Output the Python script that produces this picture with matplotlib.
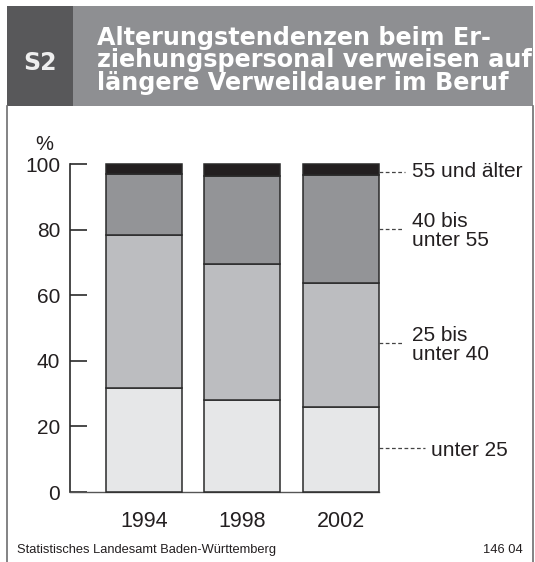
import matplotlib
matplotlib.use("Agg")
import matplotlib.pyplot as plt
from matplotlib.patches import Rectangle
from matplotlib.lines import Line2D

plt.rcParams['font.family'] = ['Liberation Sans', 'DejaVu Sans']

# ---- data ----
years = ["1994", "1998", "2002"]
unter_25 = [31.6, 28.1, 25.9]
von_25_bis_40 = [46.8, 41.3, 37.9]
von_40_bis_55 = [18.6, 27.0, 32.8]
ab_55 = [3.0, 3.6, 3.4]
series_labels = ["unter 25", "25 bis\nunter 40", "40 bis\nunter 55", "55 und älter"]
yticks = [0, 20, 40, 60, 80, 100]

colors = ["#e6e7e8", "#bcbdc0", "#939497", "#231f20"]

W, H = 535, 562
fig = plt.figure(figsize=(W / 100, H / 100), dpi=100)
fig.patch.set_facecolor("white")

def fx(px):
    return px / W

def fy(py):
    return 1 - py / H

# ---- frame & header ----
fig.patches.append(Rectangle((fx(7), fy(106)), fx(533) - fx(7), fy(6) - fy(106),
                             transform=fig.transFigure, facecolor="#8e8f92", edgecolor="none", zorder=0))
fig.patches.append(Rectangle((fx(7), fy(106)), fx(73) - fx(7), fy(6) - fy(106),
                             transform=fig.transFigure, facecolor="#58585a", edgecolor="none", zorder=1))
for xx in (7, 533):
    fig.lines.append(Line2D([fx(xx), fx(xx)], [fy(106), 0], transform=fig.transFigure,
                            color="#6e6e70", lw=1.2))

fig.text(fx(40), fy(63), "S2", color="#eeeeee", fontsize=17, fontweight="bold",
         family="DejaVu Sans", ha="center", va="center")
title_lines = ["Alterungstendenzen beim Er-",
               "ziehungspersonal verweisen auf",
               "längere Verweildauer im Beruf"]
for i, line in enumerate(title_lines):
    fig.text(fx(97), fy(45 + i * 22.5), line, color="white", fontsize=17.2,
             fontweight="bold", family="DejaVu Sans", ha="left", va="baseline")

# ---- chart axes ----
ppu = 98.3  # pixels per category unit
c0 = 144
x_left_px, x_right_px = 70, 400
ax = fig.add_axes([fx(x_left_px), fy(492), fx(x_right_px) - fx(x_left_px), fy(164) - fy(492)])
ax.set_xlim(-(c0 - x_left_px) / ppu, (x_right_px - c0) / ppu)
ax.set_ylim(0, 100)
ax.patch.set_alpha(0)

xpos = list(range(len(years)))
bw = 76 / ppu
bottom = [0, 0, 0]
for vals, col in zip([unter_25, von_25_bis_40, von_40_bis_55, ab_55], colors):
    ax.bar(xpos, vals, width=bw, bottom=bottom, color=col, edgecolor="#2a2a2a",
           linewidth=1.1, clip_on=False, zorder=3)
    bottom = [b + v for b, v in zip(bottom, vals)]

for s in ["top", "right"]:
    ax.spines[s].set_visible(False)
ax.spines["left"].set_color("#2a2a2a")
ax.spines["left"].set_linewidth(1.2)
ax.spines["bottom"].set_color("#555555")
ax.spines["bottom"].set_linewidth(1.0)
ax.spines["bottom"].set_bounds(ax.get_xlim()[0], 2 + bw / 2)

ax.set_yticks(yticks)
ax.set_yticklabels([str(t) for t in yticks])
ax.tick_params(axis="y", direction="in", length=12, width=1.2, color="#2a2a2a",
               labelsize=15, pad=7, labelcolor="#231f20")
ax.set_xticks(xpos)
ax.set_xticklabels(years)
ax.tick_params(axis="x", length=0, labelsize=15.5, pad=14, labelcolor="#231f20")

fig.text(fx(44), fy(150), "%", fontsize=14.5, ha="center", va="baseline", color="#231f20")

# ---- right-side labels with dashed leaders ----
edge = 2 + bw / 2
def px2x(px):
    return (px - c0) / ppu

label_specs = [
    (series_labels[3], 97.6, 97.6, 405, 412),
    (series_labels[2], 80.2, 79.6, 403, 412),
    (series_labels[1], 45.3, 44.7, 403, 412),
    (series_labels[0], 13.3, 12.8, 425, 431),
]
for text, ly, ty, lend, tx in label_specs:
    ax.plot([edge, px2x(lend)], [ly, ly], color="#444444", lw=0.9,
            linestyle=(0, (3, 2)), clip_on=False, zorder=4)
    ax.text(px2x(tx), ty, text, fontsize=15, ha="left", va="center",
            color="#231f20", linespacing=1.0, clip_on=False)

# ---- footer ----
fig.text(fx(17), fy(550), "Statistisches Landesamt Baden-Württemberg", fontsize=9.3,
         ha="left", va="center", color="#231f20")
fig.text(fx(523), fy(550), "146 04", fontsize=9.3, ha="right", va="center", color="#231f20")

fig.savefig("out.png", dpi=100, facecolor="white")
